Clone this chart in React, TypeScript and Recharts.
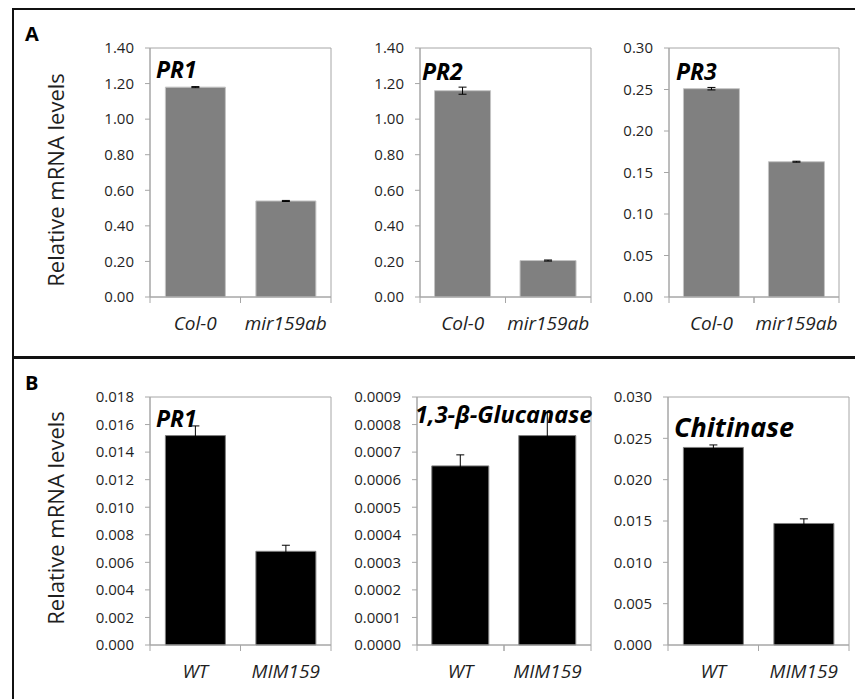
import React from "react";
import { BarChart, Bar, XAxis, YAxis, ErrorBar, ReferenceArea } from "recharts";

const FONT = "'Open Sans', 'DejaVu Sans', sans-serif";
const AXIS_GRAY = "#a6a6a6";
const TEXT = "#1f1f1f";

// categories
const catsA = ["Col-0", "mir159ab"];
const catsB = ["WT", "MIM159"];

// panel A (means and SE)
const pr1AMean = [1.18, 0.54];
const pr1AErr = [0.003, 0.003];
const pr2AMean = [1.16, 0.205];
const pr2AErr = [0.02, 0.003];
const pr3AMean = [0.251, 0.163];
const pr3AErr = [0.0015, 0.0006];

// panel B (means and SE)
const pr1BMean = [0.0152, 0.0068];
const pr1BErr = [0.0007, 0.00044];
const glucMean = [0.00065, 0.00076];
const glucErr = [0.00004, 0.000084];
const chitMean = [0.0239, 0.0147];
const chitErr = [0.0003, 0.00056];

// y ticks
const ticksPR12A = [0, 0.2, 0.4, 0.6, 0.8, 1.0, 1.2, 1.4];
const ticksPR3A = [0, 0.05, 0.1, 0.15, 0.2, 0.25, 0.3];
const ticksPR1B = [0, 0.002, 0.004, 0.006, 0.008, 0.01, 0.012, 0.014, 0.016, 0.018];
const ticksGluc = [0, 0.0001, 0.0002, 0.0003, 0.0004, 0.0005, 0.0006, 0.0007, 0.0008, 0.0009];
const ticksChit = [0, 0.005, 0.01, 0.015, 0.02, 0.025, 0.03];

const CatTick = (props: any) => {
  const { x, y, payload } = props;
  const half = payload && payload.offset ? payload.offset : 45;
  return (
    <g>
      <line x1={x - half} x2={x - half} y1={y} y2={y + 6} stroke={AXIS_GRAY} />
      <line x1={x + half} x2={x + half} y1={y} y2={y + 6} stroke={AXIS_GRAY} />
      <text
        x={x}
        y={y + 33}
        textAnchor="middle"
        fontStyle="italic"
        fontSize={19}
        fontFamily={FONT}
        fill={TEXT}
      >
        {payload.value}
      </text>
    </g>
  );
};

type Box = { l: number; r: number; t: number; b: number };

function Panel({
  cats,
  mean,
  err,
  ticks,
  decimals,
  fill,
  stroke,
  box,
}: {
  cats: string[];
  mean: number[];
  err: number[];
  ticks: number[];
  decimals: number;
  fill: string;
  stroke: string;
  box: Box;
}) {
  const data = cats.map((c, i) => ({ cat: c, mean: mean[i], err: err[i] }));
  const AXIS_W = 80;
  const MR = 6;
  const MT = 10;
  const XH = 45;
  const left = box.l - AXIS_W;
  const top = box.t - MT;
  const width = box.r - left + MR;
  const height = box.b - top + XH;
  const max = ticks[ticks.length - 1];
  return (
    <div style={{ position: "absolute", left, top }}>
      <BarChart
        width={width}
        height={height}
        data={data}
        margin={{ top: MT, right: MR, bottom: 0, left: 0 }}
        barCategoryGap="17%"
      >
        <ReferenceArea y1={0} y2={max} fill="none" stroke={AXIS_GRAY} ifOverflow="visible" />
        <XAxis
          dataKey="cat"
          height={XH}
          tickLine={false}
          tickSize={0}
          tickMargin={0}
          interval={0}
          axisLine={{ stroke: AXIS_GRAY }}
          tick={<CatTick />}
        />
        <YAxis
          width={AXIS_W}
          domain={[0, max]}
          ticks={ticks}
          interval={0}
          tickFormatter={(v: number) => v.toFixed(decimals)}
          tickSize={5}
          tickMargin={11}
          axisLine={{ stroke: AXIS_GRAY }}
          tickLine={{ stroke: AXIS_GRAY }}
          tick={{ fill: TEXT, fontSize: 15, fontFamily: FONT }}
        />
        <Bar dataKey="mean" fill={fill} stroke={stroke} strokeWidth={1} isAnimationActive={false}>
          <ErrorBar dataKey="err" width={4} stroke="#000" strokeWidth={1} direction="y" />
        </Bar>
      </BarChart>
    </div>
  );
}

const Title = ({ text, left, baseline, size }: { text: string; left: number; baseline: number; size: number }) => (
  <div
    style={{
      position: "absolute",
      left,
      top: baseline - 0.888 * size,
      fontFamily: FONT,
      fontWeight: 700,
      fontStyle: "italic",
      fontSize: size,
      lineHeight: `${size}px`,
      color: "#000",
      whiteSpace: "nowrap",
    }}
  >
    {text}
  </div>
);

const YLabel = ({ cy }: { cy: number }) => (
  <div
    style={{
      position: "absolute",
      left: 55 - 130,
      top: cy - 12,
      width: 260,
      height: 24,
      lineHeight: "24px",
      textAlign: "center",
      transform: "rotate(-90deg)",
      fontFamily: FONT,
      fontSize: 22,
      color: TEXT,
      whiteSpace: "nowrap",
    }}
  >
    Relative mRNA levels
  </div>
);

const Letter = ({ text, top }: { text: string; top: number }) => (
  <div
    style={{
      position: "absolute",
      left: 25,
      top,
      fontFamily: FONT,
      fontWeight: 700,
      fontSize: 20,
      lineHeight: "20px",
      color: "#000",
    }}
  >
    {text}
  </div>
);

export default function App() {
  return (
    <div
      style={{
        position: "absolute",
        left: 0,
        top: 0,
        width: 855,
        height: 699,
        overflow: "hidden",
        background: "#fff",
      }}
    >
      {/* frame */}
      <div style={{ position: "absolute", left: 12, top: 8, width: 2, height: 691, background: "#111" }} />
      <div style={{ position: "absolute", left: 12, top: 8, width: 843, height: 2, background: "#111" }} />
      <div style={{ position: "absolute", left: 12, top: 356, width: 843, height: 3, background: "#111" }} />

      <Letter text="A" top={24} />
      <Letter text="B" top={373} />
      <YLabel cy={180} />
      <YLabel cy={518} />

      <Panel cats={catsA} mean={pr1AMean} err={pr1AErr} ticks={ticksPR12A} decimals={2} fill="#808080" stroke="#c4c4c4" box={{ l: 150, r: 331, t: 48, b: 297 }} />
      <Panel cats={catsA} mean={pr2AMean} err={pr2AErr} ticks={ticksPR12A} decimals={2} fill="#808080" stroke="#c4c4c4" box={{ l: 420, r: 591, t: 48, b: 297 }} />
      <Panel cats={catsA} mean={pr3AMean} err={pr3AErr} ticks={ticksPR3A} decimals={2} fill="#808080" stroke="#c4c4c4" box={{ l: 669, r: 839, t: 48, b: 297 }} />

      <Panel cats={catsB} mean={pr1BMean} err={pr1BErr} ticks={ticksPR1B} decimals={3} fill="#000" stroke="#808080" box={{ l: 150, r: 331, t: 397, b: 645 }} />
      <Panel cats={catsB} mean={glucMean} err={glucErr} ticks={ticksGluc} decimals={4} fill="#000" stroke="#808080" box={{ l: 417, r: 591, t: 397, b: 645 }} />
      <Panel cats={catsB} mean={chitMean} err={chitErr} ticks={ticksChit} decimals={3} fill="#000" stroke="#808080" box={{ l: 668, r: 849, t: 397, b: 645 }} />

      <Title text="PR1" left={156} baseline={78} size={23} />
      <Title text="PR2" left={422} baseline={80} size={23} />
      <Title text="PR3" left={676} baseline={80} size={23} />
      <Title text="PR1" left={156} baseline={427} size={23} />
      <Title text="1,3-β-Glucanase" left={415} baseline={424} size={23.5} />
      <Title text="Chitinase" left={674} baseline={437} size={27} />
    </div>
  );
}
